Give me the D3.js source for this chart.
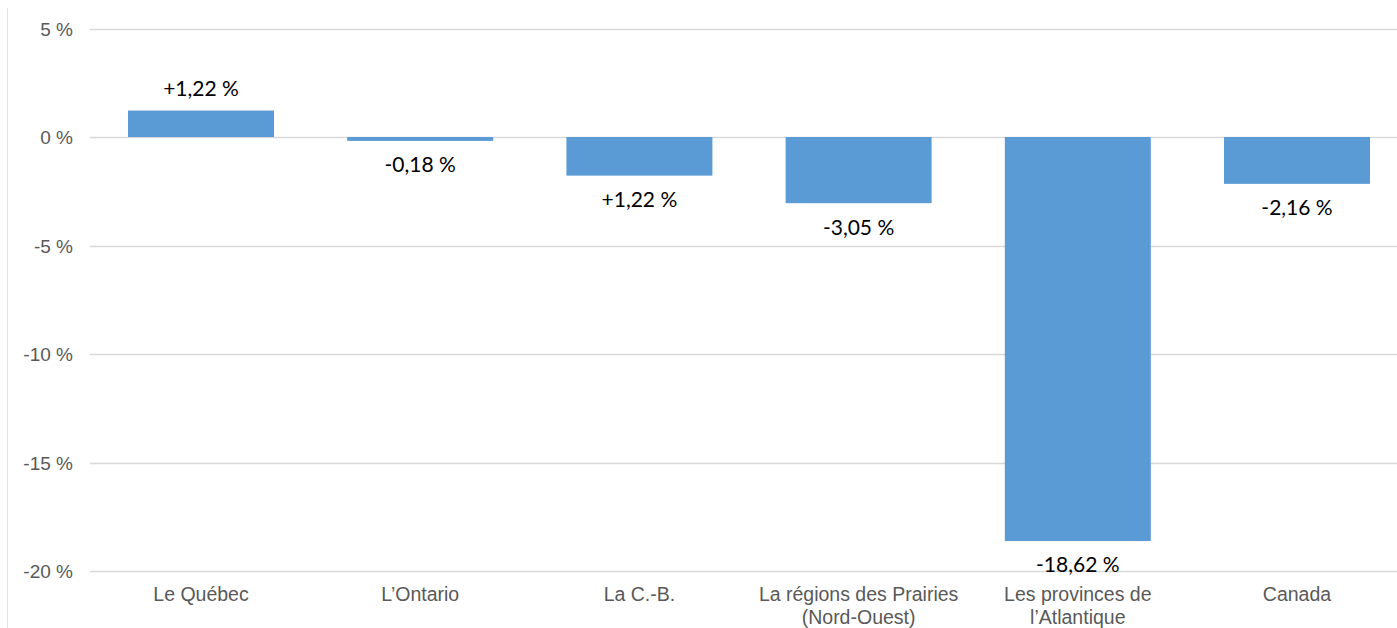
<!DOCTYPE html>
<html><head><meta charset="utf-8">
<script src="https://cdn.jsdelivr.net/npm/d3@7"></script>
<style>html,body{margin:0;padding:0;background:#fff;}svg{display:block;}</style>
</head><body>
<svg id="chart" width="1397" height="628"></svg>
<script>
const categories = ["Le Québec", "L’Ontario", "La C.-B.", "La régions des Prairies|(Nord-Ouest)", "Les provinces de|l’Atlantique", "Canada"];
const values = [1.22, -0.18, -1.78, -3.05, -18.62, -2.16];
const valueLabels = ["+1,22 %", "-0,18 %", "+1,22 %", "-3,05 %", "-18,62 %", "-2,16 %"];
const yTicks = [5, 0, -5, -10, -15, -20];
const yTickLabels = ["5 %", "0 %", "-5 %", "-10 %", "-15 %", "-20 %"];

const svg = d3.select("#chart");
const y = d3.scaleLinear().domain([-20, 5]).range([571, 28.5]);
const x = d3.scaleBand().domain(categories).range([91.4, 1406.6]).paddingInner(0.334).paddingOuter(0.167);

// left border line
svg.append("line").attr("x1", 7.5).attr("x2", 7.5).attr("y1", 8).attr("y2", 628)
  .attr("stroke", "#e3e3e3").attr("stroke-width", 1);

// grid
const yAxis = d3.axisLeft(y).tickValues(yTicks).tickSize(0).tickFormat((d, i) => yTickLabels[i]);
const gy = svg.append("g").attr("transform", "translate(90,0)");
svg.append("g").selectAll("line").data(yTicks).join("line")
  .attr("x1", 90).attr("x2", 1397)
  .attr("y1", d => Math.round(y(d)) + 0.5).attr("y2", d => Math.round(y(d)) + 0.5)
  .attr("stroke", "#d9d9d9").attr("stroke-width", 1.5);
gy.call(yAxis);
gy.select(".domain").remove();
gy.selectAll("text").attr("x", -17).attr("dy", "0.35em")
  .style("font-family", "'Liberation Sans', Arial, sans-serif").style("font-size", "19px").attr("fill", "#595959");

// bars
svg.append("g").selectAll("rect").data(values).join("rect")
  .attr("x", (d, i) => x(categories[i]))
  .attr("width", x.bandwidth())
  .attr("y", d => y(Math.max(0, d)))
  .attr("height", d => Math.abs(y(d) - y(0)))
  .attr("fill", "#5B9BD5");

// data labels
svg.append("g").selectAll("text").data(values).join("text")
  .attr("x", (d, i) => x(categories[i]) + x.bandwidth() / 2)
  .attr("y", d => d >= 0 ? y(d) - 22 : y(d) + 24)
  .attr("dy", "0.35em")
  .attr("text-anchor", "middle")
  .style("font-family", "Lato, 'Open Sans', sans-serif").style("font-size", "21px").attr("fill", "#000")
  .text((d, i) => valueLabels[i]);

// category labels
const xAxis = d3.axisBottom(x).tickSize(0).tickFormat("");
const gx = svg.append("g").attr("transform", "translate(0,571)").call(xAxis);
gx.select(".domain").remove();
gx.selectAll(".tick").each(function(d) {
  const lines = d.split("|");
  const t = d3.select(this).append("text").attr("text-anchor", "middle")
    .style("font-family", "'Liberation Sans', Arial, sans-serif").style("font-size", "19.5px").attr("fill", "#595959");
  lines.forEach((l, k) => t.append("tspan").attr("x", 0).attr("y", 30 + k * 23).text(l));
});
</script>
</body></html>
